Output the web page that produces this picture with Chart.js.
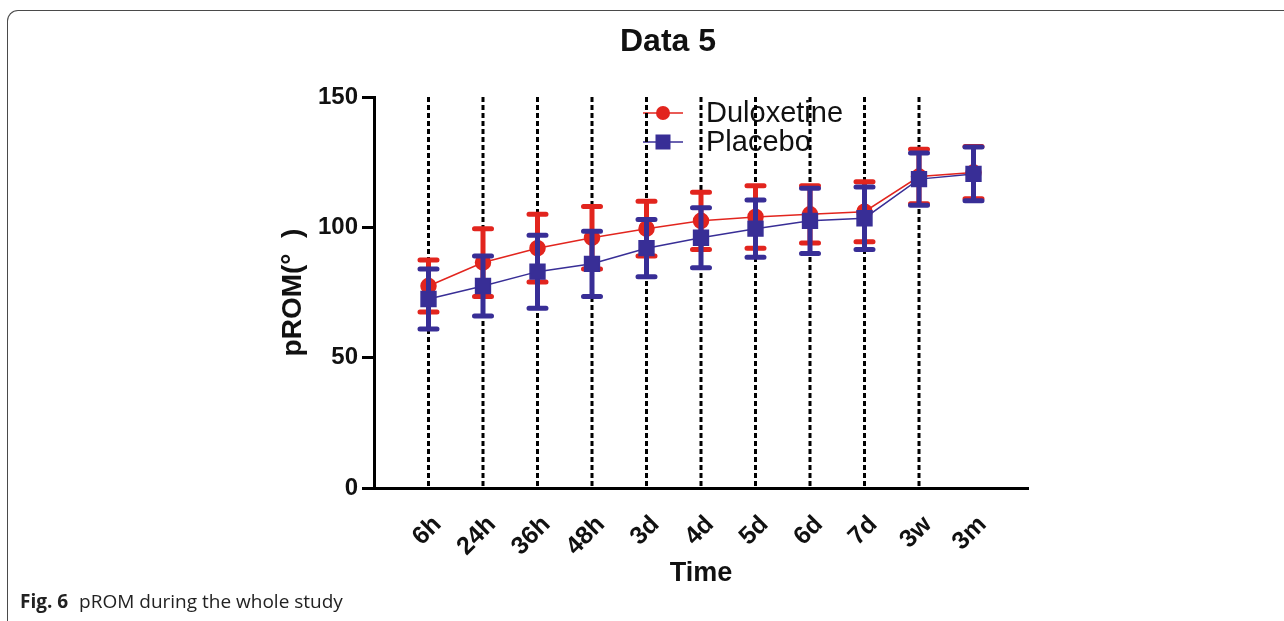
<!DOCTYPE html>
<html>
<head>
<meta charset="utf-8">
<script src="https://cdn.jsdelivr.net/npm/chart.js@4.4.1/dist/chart.umd.min.js"></script>
<style>
  html, body { margin: 0; padding: 0; background: #fff; }
  body { width: 1284px; height: 621px; overflow: hidden; position: relative; }
  .frame {
    position: absolute; left: 7px; top: 10px; width: 1300px; height: 640px;
    border-top: 1.5px solid #4a4a4a; border-left: 1.5px solid #4a4a4a;
    border-top-left-radius: 11px;
  }
  #chart { position: absolute; left: 0; top: 0; }
  .caption {
    position: absolute; left: 20px; top: 588px;
    font-family: "Open Sans", "Noto Sans", sans-serif; font-size: 19px; color: #222;
  }
  .caption b { margin-right: 6px; }
</style>
</head>
<body>
<div class="frame"></div>
<canvas id="chart" width="1284" height="621"></canvas>
<div class="caption"><b>Fig. 6</b> pROM during the whole study</div>
<script>
// values (mean and SD, degrees)
const categories = ["6h", "24h", "36h", "48h", "3d", "4d", "5d", "6d", "7d", "3w", "3m"];
const duloxetine = [77.5, 86.5, 92, 96, 99.5, 102.5, 104, 105, 106, 119.5, 121];
const duloxetineSd = [10, 13, 13, 12, 10.5, 11, 12, 11, 11.5, 10.5, 10];
const placebo = [72.5, 77.5, 83, 86, 92, 96, 99.5, 102.5, 103.5, 118.5, 120.5];
const placeboSd = [11.5, 11.5, 14, 12.5, 11, 11.5, 11, 12.5, 12, 10, 10.3];
const dashedAt = ["6h", "24h", "36h", "48h", "3d", "4d", "5d", "6d", "7d", "3w"];
const yTicks = [0, 50, 100, 150];

const RED = "rgb(226, 37, 30)";
const BLUE = "rgb(56, 46, 150)";
const FONT = "'Liberation Sans', Arial, sans-serif";

const toPoints = (vals) => vals.map((v, i) => ({ x: i + 1, y: v }));
const sds = [duloxetineSd, placeboSd];

const figurePlugin = {
  id: "figure",
  beforeDatasetsDraw(chart) {
    const ctx = chart.ctx;
    const x = chart.scales.x, y = chart.scales.y;
    ctx.save();
    // title
    ctx.fillStyle = "#111";
    ctx.font = "bold 32px " + FONT;
    ctx.textAlign = "center";
    ctx.textBaseline = "middle";
    ctx.fillText("Data 5", 668, 42);

    // legend
    const items = [
      { label: "Duloxetine", color: RED, style: "circle" },
      { label: "Placebo", color: BLUE, style: "rect" }
    ];
    items.forEach((it, k) => {
      const ly = 113 + k * 29;
      ctx.strokeStyle = it.color;
      ctx.lineWidth = 1.5;
      ctx.beginPath();
      ctx.moveTo(643, ly);
      ctx.lineTo(683, ly);
      ctx.stroke();
      ctx.fillStyle = it.color;
      if (it.style === "circle") {
        ctx.beginPath();
        ctx.arc(663, ly, 7, 0, Math.PI * 2);
        ctx.fill();
      } else {
        ctx.fillRect(655.5, ly - 7.5, 15, 15);
      }
      ctx.fillStyle = "#111";
      ctx.font = "29px " + FONT;
      ctx.textAlign = "left";
      ctx.fillText(it.label, 706, ly + 1);
    });

    // dotted verticals
    ctx.strokeStyle = "#000";
    ctx.lineWidth = 3;
    ctx.setLineDash([5, 3]);
    dashedAt.forEach((c) => {
      const px = x.getPixelForValue(categories.indexOf(c) + 1);
      ctx.beginPath();
      ctx.moveTo(px, y.getPixelForValue(150));
      ctx.lineTo(px, y.getPixelForValue(0));
      ctx.stroke();
    });
    ctx.restore();
  },
  beforeDatasetDraw(chart, args) {
    const ctx = chart.ctx;
    const x = chart.scales.x, y = chart.scales.y;
    const ds = chart.data.datasets[args.index];
    const sd = sds[args.index];
    ctx.save();
    ctx.strokeStyle = ds.borderColor;
    ctx.lineWidth = 5;
    ctx.lineCap = "round";
    ds.data.forEach((p, i) => {
      const px = x.getPixelForValue(p.x);
      const top = y.getPixelForValue(p.y + sd[i]);
      const bot = y.getPixelForValue(p.y - sd[i]);
      ctx.beginPath();
      ctx.moveTo(px, top);
      ctx.lineTo(px, bot);
      ctx.moveTo(px - 8.5, top);
      ctx.lineTo(px + 8.5, top);
      ctx.moveTo(px - 8.5, bot);
      ctx.lineTo(px + 8.5, bot);
      ctx.stroke();
    });
    ctx.restore();
  }
};

new Chart(document.getElementById("chart"), {
  type: "line",
  data: {
    datasets: [
      {
        label: "Duloxetine",
        data: toPoints(duloxetine),
        borderColor: RED,
        backgroundColor: RED,
        borderWidth: 1.5,
        pointStyle: "circle",
        pointRadius: 7.5,
        pointHoverRadius: 7.5,
        order: 2
      },
      {
        label: "Placebo",
        data: toPoints(placebo),
        borderColor: BLUE,
        backgroundColor: BLUE,
        borderWidth: 1.5,
        pointStyle: "rect",
        pointRadius: 10.5,
        pointHoverRadius: 10.5,
        order: 1
      }
    ]
  },
  options: {
    responsive: false,
    animation: false,
    events: [],
    layout: { padding: { left: 272, right: 256, top: 97, bottom: 29 } },
    plugins: { legend: { display: false }, tooltip: { enabled: false } },
    scales: {
      x: {
        type: "linear",
        min: 0,
        max: categories.length + 1,
        afterBuildTicks: (s) => { s.ticks = categories.map((c, i) => ({ value: i + 1 })); },
        afterFit: (s) => { s.height = 104; },
        grid: { display: false, drawTicks: false },
        border: { display: true, color: "#000", width: 3 },
        ticks: {
          autoSkip: false,
          maxRotation: 45,
          minRotation: 45,
          padding: 22,
          labelOffset: 9,
          color: "#111",
          font: { family: FONT, size: 25, weight: "bold" },
          callback: (v) => categories[v - 1]
        },
        title: {
          display: true,
          text: "Time",
          color: "#111",
          font: { family: FONT, size: 27, weight: "bold" },
          padding: { top: 4, bottom: 2 }
        }
      },
      y: {
        min: 0,
        max: 150,
        afterBuildTicks: (s) => { s.ticks = yTicks.map((v) => ({ value: v })); },
        afterFit: (s) => { s.width = 102; },
        grid: { drawOnChartArea: false, drawTicks: true, tickLength: 12, color: "#000", lineWidth: 3 },
        border: { display: true, color: "#000", width: 3 },
        ticks: {
          padding: 4,
          color: "#111",
          font: { family: FONT, size: 24, weight: "bold" }
        },
        title: {
          display: true,
          text: "pROM(°  )",
          color: "#111",
          font: { family: FONT, size: 28, weight: "bold" },
          padding: { top: 4, bottom: 4 }
        }
      }
    }
  },
  plugins: [figurePlugin]
});
</script>
</body>
</html>
